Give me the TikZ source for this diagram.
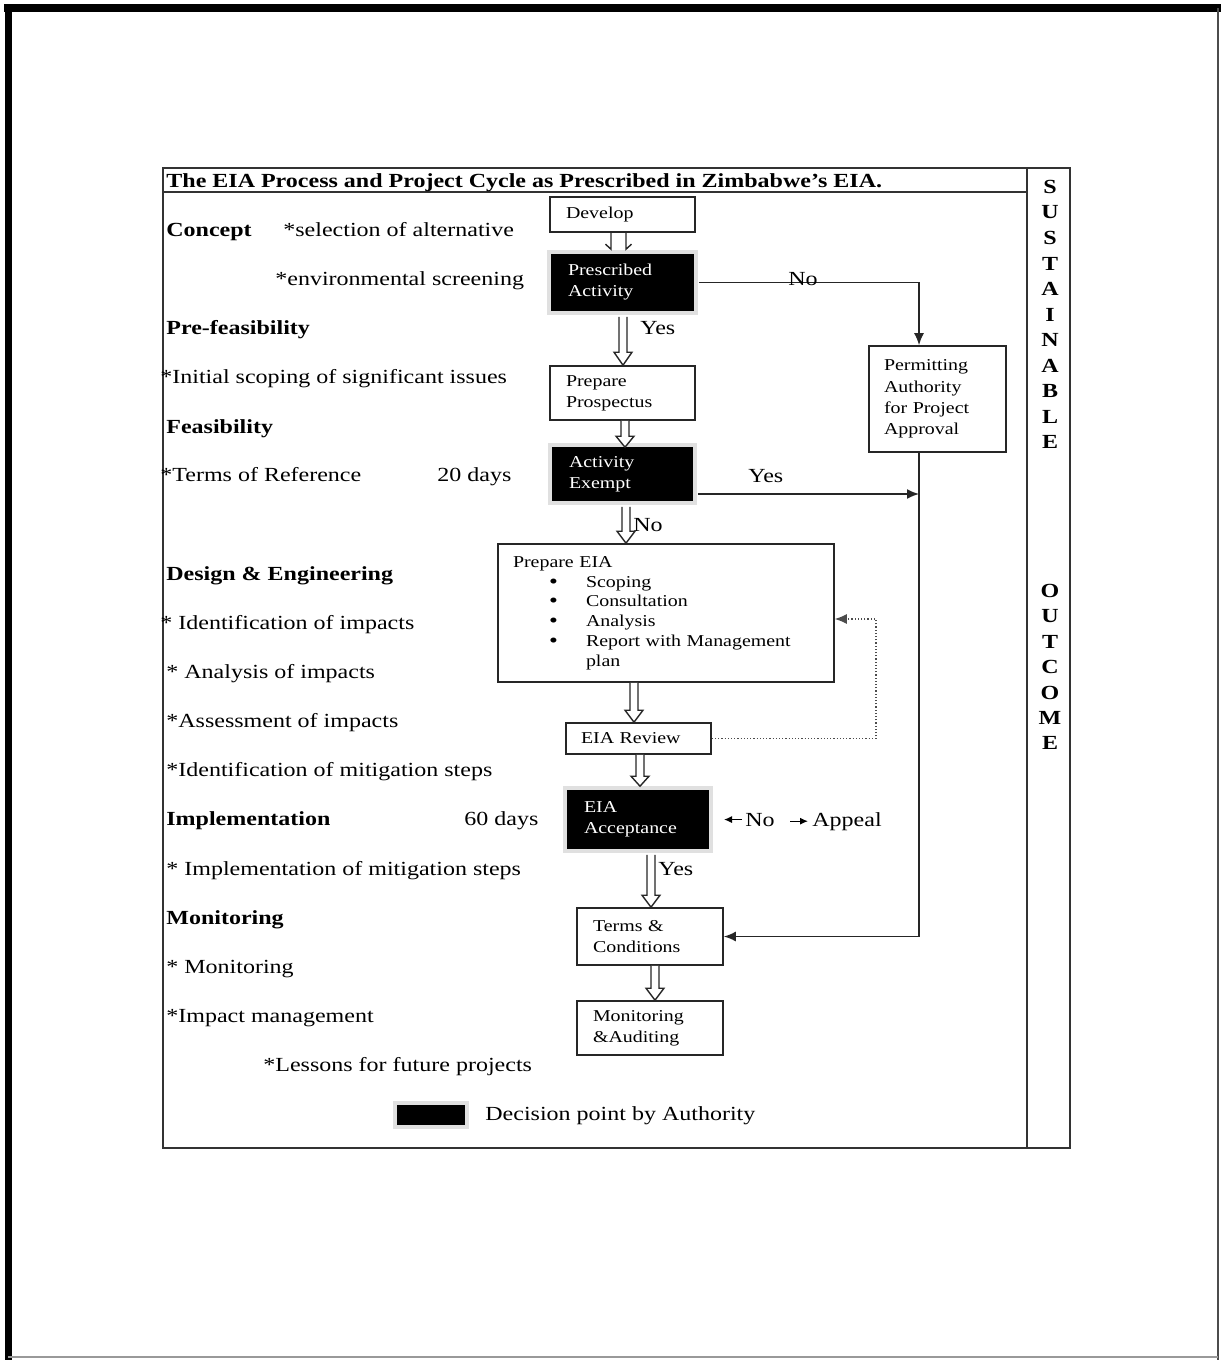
\documentclass[tikz,border=0pt]{standalone}
\usepackage{fontspec}
\setmainfont{Liberation Serif}[FakeStretch=1.2]
\usetikzlibrary{arrows.meta,calc}
\newcommand\bul{\makebox[36.5pt][l]{\hspace*{18pt}\raisebox{-0.5pt}[0pt][0pt]{\fontsize{10.5}{9.9}\selectfont\textbullet}}}
% hollow block arrow: #1 column coordinate, #2 start, #3 tip, #4 shaft half width, #5 head half width, #6 head length
\newcommand\blockarrow[6]{%
  \path[blockarr] let \p1=(#1), \p2=(#2), \p3=(#3) in
    (\x1-#4,\y2) -- (\x1-#4,\y3+#6) -- (\x1-#5,\y3+#6) -- (\x1,\y3)
    -- (\x1+#5,\y3+#6) -- (\x1+#4,\y3+#6) -- (\x1+#4,\y2);}
% split arrow (two hooks)
\newcommand\hookarrow[3]{%
  \path[blockarr,fill=none] let \p1=(#1), \p2=(#2), \p3=(#3) in
    (\x1-3.75pt,\y2) -- (\x1-3.75pt,\y3) -- (\x1-6.5pt,\y3+2.5pt)
    (\x1+3.75pt,\y2) -- (\x1+3.75pt,\y3) -- (\x1+6.5pt,\y3+2.5pt);}
\begin{document}
\begin{tikzpicture}[x=0.5pt,y=-0.5pt,
  box/.style={draw=black!85, line width=0.8pt, fill=white, inner xsep=8pt, inner ysep=0pt,
    align=left, font=\fontsize{8.3}{10.5}\selectfont},
  decision/.style={box, fill=black, draw=black, text=white,
    preaction={draw=black!12, line width=5pt}},
  conn/.style={line width=0.8pt, draw=black!85},
  arr/.style={conn, -{Latex[length=6pt,width=5pt]}},
  smallarr/.style={line width=0.6pt, -{Latex[length=4pt,width=3.5pt]}},
  feedback/.style={line width=0.6pt, draw=black!70, densely dotted, -{Latex[length=6pt,width=5pt]}},
  blockarr/.style={draw=black!85, line width=0.7pt, fill=white},
  lbl/.style={anchor=base west, inner sep=0pt, font=\fontsize{10}{12}\selectfont},
  hd/.style={lbl, font=\fontsize{10}{12}\selectfont\bfseries},
  letter/.style={inner sep=0pt, font=\fontsize{10}{12}\selectfont\bfseries},
]
\useasboundingbox (0,0) rectangle (1221,1360);
% outer page frame
\draw[line width=4pt] (4,8) -- (1221,8);
\draw[line width=3.5pt] (8,4) -- (8,1360);
\draw[line width=1pt, black!70] (1218,8) -- (1218,1360);
\draw[line width=1pt, black!40] (8,1357) -- (1218,1357);
% inner frame
\draw[line width=0.8pt, black!80] (163,168) rectangle (1070,1148);
\draw[line width=0.8pt, black!80] (163,192) -- (1027,192);
\draw[line width=0.8pt, black!80] (1027,168) -- (1027,1148);
% title
\node[hd] (title) at (166,187) {The EIA Process and Project Cycle as Prescribed in Zimbabwe's EIA.};
% right column letters
\foreach \l [count=\i from 0] in {S,U,S,T,A,I,N,A,B,L,E}
  \node[letter] (s\i) at (1050,{187+25.5*\i}) {\l};
\foreach \l [count=\i from 0] in {O,U,T,C,O,M,E}
  \node[letter] (o\i) at (1050,{591+25.4*\i}) {\l};
% left column texts
\node[hd]  (t1)  at (166,236) {Concept};
\node[lbl] (t2)  at (283,236) {*selection of alternative};
\node[lbl] (t3)  at (275,285) {*environmental screening};
\node[hd]  (t4)  at (166,334) {Pre-feasibility};
\node[lbl] (t5)  at (160,383) {*Initial scoping of significant issues};
\node[hd]  (t6)  at (166,433) {Feasibility};
\node[lbl] (t7)  at (160,481) {*Terms of Reference};
\node[lbl] (t8)  at (437,481) {20 days};
\node[hd]  (t9)  at (166,580) {Design \& Engineering};
\node[lbl] (t10) at (160,629) {* Identification of impacts};
\node[lbl] (t11) at (166,678) {* Analysis of impacts};
\node[lbl] (t12) at (166,727) {*Assessment of impacts};
\node[lbl] (t13) at (166,776) {*Identification of mitigation steps};
\node[hd]  (t14) at (166,825) {Implementation};
\node[lbl] (t15) at (464,825) {60 days};
\node[lbl] (t16) at (166,875) {* Implementation of mitigation steps};
\node[hd]  (t17) at (166,924) {Monitoring};
\node[lbl] (t18) at (166,973) {* Monitoring};
\node[lbl] (t19) at (166,1022) {*Impact management};
\node[lbl] (t20) at (263,1071) {*Lessons for future projects};
% boxes
\node[box, minimum width=72.5pt, minimum height=17.5pt, text width=56.5pt] (dev) at (622.5,214.5) {Develop};
\node[decision, minimum width=70.5pt, minimum height=27.5pt, text width=54.5pt] (pa) at (622.5,282.5) {Prescribed\\Activity};
\node[box, minimum width=72.5pt, minimum height=27pt, text width=56.5pt] (pp) at (622.5,393) {Prepare\\Prospectus};
\node[decision, minimum width=69.5pt, minimum height=26pt, text width=53.5pt] (ae) at (622.5,474) {Activity\\Exempt};
\node[box, minimum width=68.5pt, minimum height=53pt, text width=53.5pt, inner xsep=7.5pt,
  font=\fontsize{8.3}{10.65}\selectfont] (perm) at (937.5,399) {Permitting\\Authority\\for Project\\Approval};
\node[box, minimum width=168pt, minimum height=69pt, text width=153pt, inner xsep=7.5pt,
  font=\fontsize{8.3}{9.9}\selectfont] (eia) at (666,613)
  {Prepare EIA\\\bul Scoping\\\bul Consultation\\\bul Analysis\\\bul Report with Management\\\hspace*{36.5pt}plan};
\node[box, minimum width=72.5pt, minimum height=15.5pt, text width=57.5pt, inner xsep=7.5pt] (rev) at (638.5,738.5) {EIA Review};
\node[decision, minimum width=70pt, minimum height=28.5pt, text width=54pt] (acc) at (638,819.5) {EIA\\Acceptance};
\node[box, minimum width=73pt, minimum height=28.5pt, text width=57pt] (tc) at (650,936.5) {Terms \&\\Conditions};
\node[box, minimum width=73pt, minimum height=27pt, text width=57pt] (ma) at (650,1028) {Monitoring\\\&Auditing};
% legend
\node[decision, minimum width=33pt, minimum height=9pt, inner sep=0pt] (leg) at (431,1115) {};
\node[lbl] (legt) at (485,1120) {Decision point by Authority};
% thin connectors
\coordinate (vx) at (919,0);
\coordinate (paout) at ([xshift=2.5pt]pa.east);
\draw[arr] (paout) -| (vx |- perm.north);
\node[lbl] (no1) at (788,285) {No};
\coordinate (aey) at (0,494);
\coordinate (aeout) at ([xshift=2.5pt]ae.east);
\draw[arr] (aeout |- aey) -- (vx |- aey);
\node[lbl] (yes2) at (748,482) {Yes};
\draw[arr] (vx |- perm.south) |- (tc.east);
\coordinate (fb) at (876,619);
\draw[feedback] (rev.east) -| (fb) -- (eia.east |- fb);
% block arrows
\coordinate (c1) at (618.5,0);
\coordinate (c2) at (623,0);
\coordinate (c3) at (625,0);
\coordinate (c4) at (626,0);
\coordinate (c5) at (634,0);
\coordinate (c6) at (640,0);
\coordinate (c7) at (651,0);
\coordinate (c8) at (655,0);
\hookarrow{c1}{dev.south}{[yshift=2.5pt]pa.north}
\blockarrow{c2}{[yshift=-3pt]pa.south}{pp.north}{2pt}{4.5pt}{6.5pt}
\node[lbl] (yes1) at (640,334) {Yes};
\blockarrow{c3}{pp.south}{ae.north}{2pt}{4.5pt}{5.5pt}
\blockarrow{c4}{[yshift=-3pt]ae.south}{eia.north}{2pt}{4.5pt}{6pt}
\node[lbl] (no2) at (633,531) {No};
\blockarrow{c5}{eia.south}{rev.north}{2pt}{4.5pt}{6pt}
\blockarrow{c6}{rev.south}{[yshift=2pt]acc.north}{2pt}{4.5pt}{5pt}
\blockarrow{c7}{[yshift=-3pt]acc.south}{tc.north}{2pt}{4.5pt}{6pt}
\node[lbl] (yes3) at (658,875) {Yes};
\blockarrow{c8}{tc.south}{ma.north}{2pt}{4.5pt}{6pt}
% No / Appeal
\node[lbl] (no3) at (745,826) {No};
\node[lbl] (app) at (812,826) {Appeal};
\draw[smallarr] ([xshift=-1.5pt]no3.west) -- ([xshift=-10.5pt]no3.west);
\draw[smallarr] ([xshift=-11pt]app.west) -- ([xshift=-2pt]app.west);
\end{tikzpicture}
\end{document}
